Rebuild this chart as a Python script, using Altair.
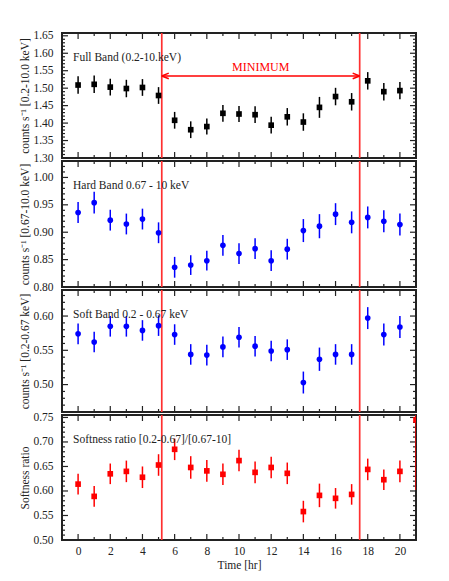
import altair as alt
import pandas as pd
import numpy as np

# ---------------- data ----------------
hours = list(range(21))

full_rate = [1.509, 1.511, 1.503, 1.499, 1.502, 1.479, 1.408, 1.381, 1.390, 1.428,
             1.426, 1.424, 1.394, 1.418, 1.403, 1.445, 1.476, 1.461, 1.521, 1.490, 1.493]
full_err = [0.025, 0.025, 0.024, 0.025, 0.024, 0.024, 0.024, 0.024, 0.023, 0.024,
            0.023, 0.024, 0.024, 0.025, 0.025, 0.030, 0.025, 0.025, 0.025, 0.025, 0.025]

hard_rate = [0.936, 0.954, 0.922, 0.915, 0.924, 0.899, 0.836, 0.840, 0.848, 0.876,
             0.861, 0.870, 0.848, 0.869, 0.903, 0.911, 0.933, 0.918, 0.927, 0.920, 0.914]
hard_err = [0.019, 0.020, 0.019, 0.019, 0.019, 0.019, 0.019, 0.018, 0.018, 0.019,
            0.019, 0.019, 0.019, 0.019, 0.021, 0.022, 0.020, 0.020, 0.020, 0.020, 0.020]

soft_rate = [0.574, 0.562, 0.585, 0.585, 0.579, 0.586, 0.573, 0.544, 0.543, 0.555,
             0.569, 0.556, 0.549, 0.551, 0.503, 0.537, 0.544, 0.544, 0.597, 0.573, 0.584]
soft_err = [0.015, 0.015, 0.015, 0.015, 0.015, 0.015, 0.015, 0.015, 0.015, 0.015,
            0.015, 0.015, 0.015, 0.015, 0.016, 0.017, 0.015, 0.015, 0.016, 0.016, 0.016]

ratio_rate = [0.614, 0.589, 0.635, 0.640, 0.628, 0.653, 0.685, 0.648, 0.641, 0.634,
              0.662, 0.638, 0.648, 0.636, 0.558, 0.591, 0.585, 0.593, 0.644, 0.623, 0.640]
ratio_err = [0.021, 0.021, 0.021, 0.022, 0.022, 0.022, 0.022, 0.023, 0.022, 0.022,
             0.022, 0.022, 0.022, 0.022, 0.022, 0.024, 0.021, 0.021, 0.022, 0.021, 0.022]
# partially visible point at the right edge of the ratio panel
ratio_edge_t = [21]
ratio_edge_rate = [0.745]
ratio_edge_err = [0.143]

minimum_start = 5.2
minimum_end = 17.5
arrow_level = 1.535

panel_labels = ["Full Band (0.2-10.keV)", "Hard Band 0.67 - 10 keV",
                "Soft Band 0.2 - 0.67 keV", "Softness ratio [0.2-0.67]/[0.67-10]"]
y_titles = ["counts s\u207b\u00b9  [0.2-10.0 keV]", "counts s\u207b\u00b9  [0.67-10.0 keV]",
            "counts s\u207b\u00b9  [0.2-0.67 keV]", "Softness ratio"]
x_labels = [0, 2, 4, 6, 8, 10, 12, 14, 16, 18, 20]

# ---------------- styling ----------------
W = 354
HEIGHTS = [125, 126, 122, 125]
FONT = "Liberation Serif"
FS = 11.5
INK = "#222222"
RED_LINE = "#ff3030"

xscale = alt.Scale(domain=[-1, 21], nice=False, zero=False)


def panel(idx, t, rate, err, ydomain, ymajor, color, shape, show_x,
          extra=None, annot=False):
    h = HEIGHTS[idx]
    df = pd.DataFrame({"t": t, "v": rate,
                       "lo": [r - e for r, e in zip(rate, err)],
                       "hi": [r + e for r, e in zip(rate, err)]})
    if extra is not None:
        et, er, ee = extra
        df = pd.concat([df, pd.DataFrame({"t": et, "v": er,
                                          "lo": [r - e for r, e in zip(er, ee)],
                                          "hi": [r + e for r, e in zip(er, ee)]})],
                       ignore_index=True)
    ys = alt.Scale(domain=ydomain, nice=False, zero=False)
    if show_x:
        xaxis = alt.Axis(values=x_labels, title="Time [hr]", ticks=False, domain=False,
                         grid=False, labelPadding=5, titlePadding=3, format="d",
                         labelFont=FONT, labelFontSize=FS, titleFont=FONT,
                         titleFontSize=FS, titleFontWeight="normal",
                         labelColor=INK, titleColor=INK)
    else:
        xaxis = None
    yaxis = alt.Axis(values=ymajor, format=".2f", title=y_titles[idx], ticks=False,
                     domain=False, grid=False, labelPadding=9, minExtent=29,
                     maxExtent=29, titlePadding=3, labelFont=FONT, labelFontSize=FS,
                     titleFont=FONT, titleFontSize=FS, titleFontWeight="normal",
                     labelColor=INK, titleColor=INK)

    X = lambda f: alt.X(f, type="quantitative", scale=xscale, axis=xaxis)
    Y = lambda f: alt.Y(f, type="quantitative", scale=ys, axis=yaxis)

    base = alt.Chart(df)
    bars = base.mark_rule(color=color, strokeWidth=1.5, clip=True).encode(
        x=X("t"), y=Y("lo"), y2="hi")
    pts = base.mark_point(shape=shape, filled=True, size=32, color=color,
                          opacity=1, clip=True).encode(x=X("t"), y=Y("v"))

    vl = alt.Chart(pd.DataFrame({"t": [minimum_start, minimum_end]})).mark_rule(
        color=RED_LINE, strokeWidth=1.7).encode(x=X("t"))

    # inward ticks
    xt_major = pd.DataFrame({"t": [v for v in hours if v % 2 == 0]})
    xt_minor = pd.DataFrame({"t": [v for v in hours if v % 2 == 1]})
    lo_, hi_ = ydomain
    ymaj = pd.DataFrame({"y": ymajor})
    yminv = [round(v, 2) for v in np.arange(round(lo_, 2), hi_ + 1e-9, 0.01)
             if round(v, 2) not in [round(m, 2) for m in ymajor] and lo_ <= v <= hi_]
    ymin = pd.DataFrame({"y": yminv})
    tick_layers = []
    for d, L in [(xt_major, 6), (xt_minor, 3)]:
        tick_layers.append(alt.Chart(d).mark_rule(color=INK, strokeWidth=1.2).encode(
            x=X("t"), y=alt.value(0), y2=alt.value(L)))
        tick_layers.append(alt.Chart(d).mark_rule(color=INK, strokeWidth=1.2).encode(
            x=X("t"), y=alt.value(h - L), y2=alt.value(h)))
    for d, L in [(ymaj, 6), (ymin, 3)]:
        tick_layers.append(alt.Chart(d).mark_rule(color=INK, strokeWidth=1.2).encode(
            y=Y("y"), x=alt.value(0), x2=alt.value(L)))
        tick_layers.append(alt.Chart(d).mark_rule(color=INK, strokeWidth=1.2).encode(
            y=Y("y"), x=alt.value(W - L), x2=alt.value(W)))

    lab = alt.Chart(pd.DataFrame({"txt": [panel_labels[idx]]})).mark_text(
        align="left", baseline="middle", font=FONT, fontSize=FS, color=INK).encode(
        x=alt.value(11), y=alt.value(25), text="txt:N")

    layers = tick_layers + [vl, bars, pts, lab]

    if annot:
        adf = pd.DataFrame({"a": [minimum_start], "b": [minimum_end], "y": [arrow_level],
                            "m": [(minimum_start + minimum_end) / 2],
                            "txt": ["MINIMUM"]})
        arrow = alt.Chart(adf).mark_rule(color="red", strokeWidth=1.5).encode(
            x=X("a"), x2="b", y=Y("y"))
        head_l = alt.Chart(adf).mark_point(
            shape="M0,0L1,-0.4M0,0L1,0.4", size=196, filled=False, color="red",
            strokeWidth=1.5, opacity=1).encode(x=X("a"), y=Y("y"))
        head_r = alt.Chart(adf).mark_point(
            shape="M0,0L-1,-0.4M0,0L-1,0.4", size=196, filled=False, color="red",
            strokeWidth=1.5, opacity=1).encode(x=X("b"), y=Y("y"))
        mtxt = alt.Chart(adf).mark_text(
            font=FONT, fontSize=12, color="red", baseline="bottom", dy=-2).encode(
            x=X("m"), y=Y("y"), text="txt:N")
        layers += [arrow, head_l, head_r, mtxt]

    return alt.layer(*layers).properties(width=W, height=h)


p1 = panel(0, hours, full_rate, full_err, [1.30, 1.658],
           [1.30, 1.35, 1.40, 1.45, 1.50, 1.55, 1.60, 1.65], "black", "square",
           False, annot=True)
p2 = panel(1, hours, hard_rate, hard_err, [0.80, 1.03],
           [0.80, 0.85, 0.90, 0.95, 1.00], "#0000ff", "circle", False)
p3 = panel(2, hours, soft_rate, soft_err, [0.46, 0.638],
           [0.50, 0.55, 0.60], "#0000ff", "circle", False)
p4 = panel(3, hours, ratio_rate, ratio_err, [0.50, 0.755],
           [0.50, 0.55, 0.60, 0.65, 0.70, 0.75], "#ff0000", "square", True,
           extra=(ratio_edge_t, ratio_edge_rate, ratio_edge_err))

chart = alt.vconcat(p1, p2, p3, p4, spacing=3, bounds="flush").properties(
    padding={"left": 9, "top": 20, "right": 5, "bottom": 5},
    background="white",
).configure_view(stroke=INK, strokeWidth=2)

chart.save("out.html", embed_options={"renderer": "svg", "actions": False})
